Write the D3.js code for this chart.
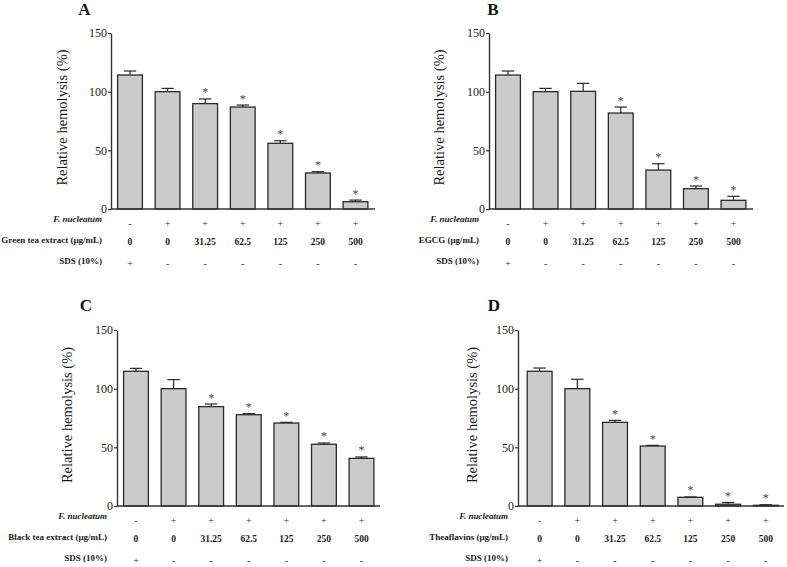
<!DOCTYPE html>
<html>
<head>
<meta charset="utf-8">
<script src="https://cdn.jsdelivr.net/npm/d3@7"></script>
<style>
  html, body { margin: 0; padding: 0; background: #fff; }
  svg { display: block; }
  svg text { font-family: "Liberation Serif", "Times New Roman", serif !important; fill: #1a1a1a; }
</style>
</head>
<body>
<svg id="chart" width="787" height="567"></svg>
<script>
// ---- Data ----
const concentrations = ["0", "0", "31.25", "62.5", "125", "250", "500"];
const fnRow = ["-", "+", "+", "+", "+", "+", "+"];
const sdsRow = ["+", "-", "-", "-", "-", "-", "-"];
const yTicks = [0, 50, 100, 150];

const greenTea = [114.2, 100, 89.8, 86.9, 56.0, 30.7, 6.2];
const greenTeaErr = [3.4, 2.8, 4.0, 1.7, 2.2, 1.1, 1.4];
const greenTeaSig = [false, false, true, true, true, true, true];

const egcg = [114.2, 100, 100.3, 81.8, 33.2, 17.3, 7.4];
const egcgErr = [3.4, 2.8, 6.8, 5.1, 5.4, 2.3, 3.4];
const egcgSig = [false, false, false, true, true, true, true];

const blackTea = [114.8, 100, 84.7, 77.8, 70.7, 52.6, 40.6];
const blackTeaErr = [2.5, 7.7, 2.2, 0.9, 0.6, 1.1, 1.2];
const blackTeaSig = [false, false, true, true, true, true, true];

const theaflavins = [114.8, 100, 71.3, 51.1, 7.4, 1.5, 0.6];
const theaflavinsErr = [2.8, 8.0, 1.7, 0.6, 0.3, 1.5, 0.5];
const theaflavinsSig = [false, false, true, true, true, true, true];

const panelLetters = ["A", "B", "C", "D"];
const treatmentLabels = ["Green tea extract (\u03bcg/mL)", "EGCG (\u03bcg/mL)", "Black tea extract (\u03bcg/mL)", "Theaflavins (\u03bcg/mL)"];
const yLabel = "Relative hemolysis (%)";
const fnLabel = "F. nucleatum";
const sdsLabel = "SDS (10%)";

// ---- Layout (positions only) ----
const panels = [
  { values: greenTea, err: greenTeaErr, sig: greenTeaSig,
    axisX: 111, bandStart: 111.2, bandEnd: 374.3, lineEnd: 375, yTop: 33, y0: 209,
    letter: [84.5, 15], ylab: [62, 117.5], labRight: 102 },
  { values: egcg, err: egcgErr, sig: egcgSig,
    axisX: 489, bandStart: 489.2, bandEnd: 752.3, lineEnd: 753, yTop: 33, y0: 209,
    letter: [493, 15], ylab: [438.5, 117.5], labRight: 479 },
  { values: blackTea, err: blackTeaErr, sig: blackTeaSig,
    axisX: 117, bandStart: 117.2, bandEnd: 380.3, lineEnd: 380, yTop: 330, y0: 506,
    letter: [86, 311], ylab: [67, 415], labRight: 107 },
  { values: theaflavins, err: theaflavinsErr, sig: theaflavinsSig,
    axisX: 518, bandStart: 520.8, bandEnd: 784.6, lineEnd: 784, yTop: 330, y0: 506,
    letter: [494, 311], ylab: [471.5, 415], labRight: 508 }
];

const svg = d3.select("#chart");
const axisColor = "#333";

panels.forEach((p, i) => {
  const g = svg.append("g");
  const x = d3.scaleBand()
    .domain(d3.range(p.values.length))
    .range([p.bandStart, p.bandEnd])
    .paddingInner(0.34)
    .paddingOuter(0.17);
  const y = d3.scaleLinear().domain([0, 150]).range([p.y0, p.yTop]);

  // bars
  g.selectAll("rect.bar").data(p.values).join("rect")
    .attr("class", "bar")
    .attr("x", (d, j) => x(j))
    .attr("width", x.bandwidth())
    .attr("y", d => y(d))
    .attr("height", d => y(0) - y(d))
    .attr("fill", "#cbcbcb")
    .attr("stroke", "#2a2a2a")
    .attr("stroke-width", 1.3);

  // error bars (upper only)
  const capW = x.bandwidth() * 0.5;
  p.values.forEach((v, j) => {
    const cx = x(j) + x.bandwidth() / 2;
    const top = y(v + p.err[j]);
    g.append("line").attr("x1", cx).attr("x2", cx).attr("y1", y(v)).attr("y2", top)
      .attr("stroke", "#2a2a2a").attr("stroke-width", 1.2);
    g.append("line").attr("x1", cx - capW / 2).attr("x2", cx + capW / 2).attr("y1", top).attr("y2", top)
      .attr("stroke", "#2a2a2a").attr("stroke-width", 1.2);
    if (p.sig[j]) {
      g.append("text").attr("x", cx).attr("y", top - 2.5)
        .attr("text-anchor", "middle").attr("font-size", 12)
        .style("fill", "#444").text("*");
    }
  });

  // y axis
  const yAxis = d3.axisLeft(y).tickValues(yTicks).tickSize(3).tickSizeOuter(0).tickPadding(1);
  const ya = g.append("g").attr("transform", `translate(${p.axisX},0)`).call(yAxis);
  ya.attr("font-family", null);
  ya.select(".domain").attr("stroke", axisColor).attr("stroke-width", 1.4);
  ya.selectAll(".tick line").attr("stroke", axisColor).attr("stroke-width", 1.2);
  ya.selectAll(".tick text").attr("font-size", 12).style("fill", "#222");

  // x axis baseline
  g.append("line").attr("x1", p.axisX).attr("x2", p.lineEnd).attr("y1", y(0)).attr("y2", y(0))
    .attr("stroke", axisColor).attr("stroke-width", 1.4);

  // panel letter
  g.append("text").attr("x", p.letter[0]).attr("y", p.letter[1])
    .attr("text-anchor", "middle").attr("font-size", 17).attr("font-weight", "bold")
    .style("fill", "#111").text(panelLetters[i]);

  // y label
  g.append("text")
    .attr("transform", `translate(${p.ylab[0]},${p.ylab[1]}) rotate(-90)`)
    .attr("text-anchor", "middle").attr("dominant-baseline", "central")
    .attr("font-size", 14.5).text(yLabel);

  // table rows
  const rowY = off => p.y0 + off;
  g.append("text").attr("x", p.labRight).attr("y", rowY(9.5))
    .attr("text-anchor", "end").attr("dominant-baseline", "central")
    .attr("font-size", 9).attr("font-weight", "bold").attr("font-style", "italic")
    .text(fnLabel);
  g.append("text").attr("x", p.labRight).attr("y", rowY(31))
    .attr("text-anchor", "end").attr("dominant-baseline", "central")
    .attr("font-size", 9).attr("font-weight", "bold")
    .text(treatmentLabels[i]);
  g.append("text").attr("x", p.labRight).attr("y", rowY(51.5))
    .attr("text-anchor", "end").attr("dominant-baseline", "central")
    .attr("font-size", 9).attr("font-weight", "bold")
    .text(sdsLabel);

  const cx = j => x(j) + x.bandwidth() / 2;
  g.selectAll("text.fn").data(fnRow).join("text").attr("class", "fn")
    .attr("x", (d, j) => cx(j)).attr("y", rowY(14))
    .attr("text-anchor", "middle").attr("dominant-baseline", "central")
    .attr("font-size", 10).style("fill", "#333").text(d => d);
  g.selectAll("text.conc").data(concentrations).join("text").attr("class", "conc")
    .attr("x", (d, j) => cx(j)).attr("y", rowY(33))
    .attr("text-anchor", "middle").attr("dominant-baseline", "central")
    .attr("font-size", 9.5).attr("font-weight", "bold").text(d => d);
  g.selectAll("text.sds").data(sdsRow).join("text").attr("class", "sds")
    .attr("x", (d, j) => cx(j)).attr("y", rowY(54.5))
    .attr("text-anchor", "middle").attr("dominant-baseline", "central")
    .attr("font-size", 10).style("fill", "#333").text(d => d);
});
</script>
</body>
</html>
